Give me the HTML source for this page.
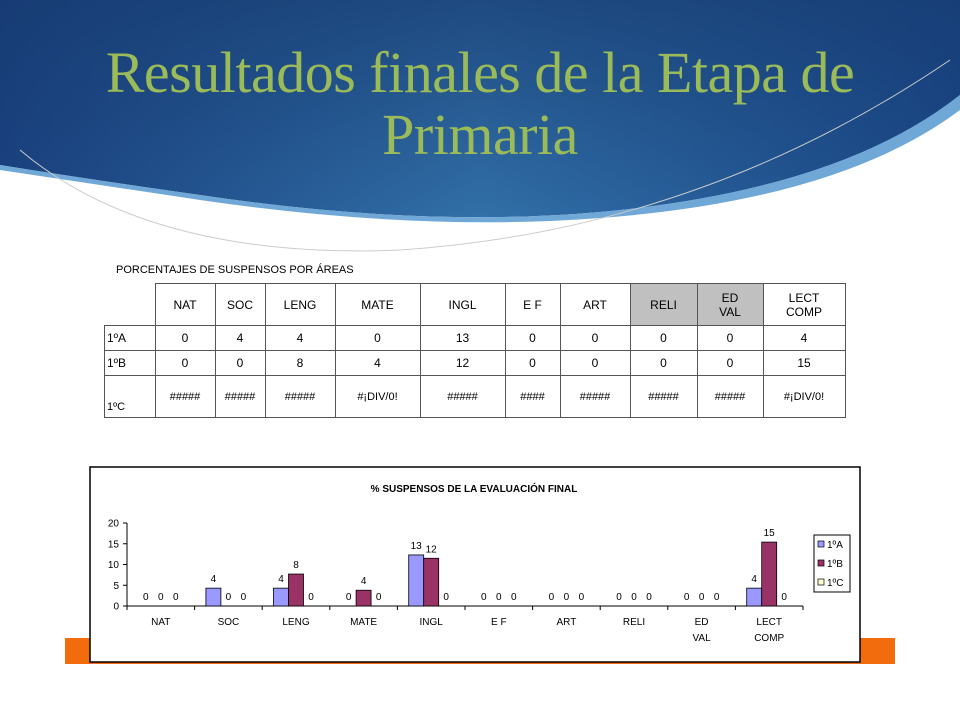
<!DOCTYPE html>
<html><head><meta charset="utf-8">
<style>
body{margin:0;width:960px;height:720px;overflow:hidden;background:#fff;font-family:"Liberation Sans",sans-serif;position:relative}
.abs{position:absolute}
#title{position:absolute;left:0px;top:42px;width:960px;text-align:center;font-family:"Liberation Serif",serif;font-size:58px;line-height:62px;color:#9bbb59;letter-spacing:-0.5px}
table{border-collapse:collapse;font-size:12px;position:absolute;left:104px;top:283px}
td{border:1px solid #555;text-align:center;padding:0}
</style></head><body>
<svg class="abs" style="left:0;top:0" width="960" height="260">
<defs><linearGradient id="g" x1="0" y1="0" x2="1" y2="0"><stop offset="0" stop-color="#1a4280"/><stop offset="0.5" stop-color="#3270a8"/><stop offset="1" stop-color="#1a4888"/></linearGradient>
<linearGradient id="gv" x1="0" y1="0" x2="0" y2="1"><stop offset="0" stop-color="#163a70" stop-opacity="0.7"/><stop offset="1" stop-color="#163a70" stop-opacity="0"/></linearGradient></defs>
<path d="M0 0 H960 V95 Q840 190 600 212 Q420 228 200 195 Q80 178 0 165 Z" fill="url(#g)"/>
<path d="M0 0 H960 V95 Q840 190 600 212 Q420 228 200 195 Q80 178 0 165 Z" fill="url(#gv)"/>
<path d="M0 165 Q80 178 200 195 Q420 228 600 212 Q840 190 960 95 L960 110 Q840 200 600 218 Q420 232 200 200 Q80 182 0 170Z" fill="#6fa7d6"/>
<path d="M20 150 Q150 260 400 250 Q700 230 950 60" fill="none" stroke="#ccc" stroke-width="1"/>
</svg>
<div id="title">Resultados finales de la Etapa de<br>Primaria</div>
<div class="abs" style="left:116px;top:264px;font-size:11px">PORCENTAJES  DE SUSPENSOS POR ÁREAS</div>
<table>
<tr style="height:42px"><td style="width:50px;border:none;border-right:1px solid #555"></td><td style="width:59px">NAT</td><td style="width:49px">SOC</td><td style="width:69px">LENG</td><td style="width:84px">MATE</td><td style="width:84px">INGL</td><td style="width:54px">E F</td><td style="width:69px">ART</td><td style="width:66px;background:#c0c0c0">RELI</td><td style="width:65px;background:#c0c0c0">ED<br>VAL</td><td style="width:81px">LECT<br>COMP</td></tr>
<tr style="height:25px"><td style="text-align:left;padding-left:2px">1ºA</td><td>0</td><td>4</td><td>4</td><td>0</td><td>13</td><td>0</td><td>0</td><td>0</td><td>0</td><td>4</td></tr>
<tr style="height:25px"><td style="text-align:left;padding-left:2px">1ºB</td><td>0</td><td>0</td><td>8</td><td>4</td><td>12</td><td>0</td><td>0</td><td>0</td><td>0</td><td>15</td></tr>
<tr style="height:42px;font-size:11px"><td style="text-align:left;vertical-align:bottom;padding-bottom:4px;padding-left:2px">1ºC</td><td>#####</td><td>#####</td><td>#####</td><td>#¡DIV/0!</td><td>#####</td><td>####</td><td>#####</td><td>#####</td><td>#####</td><td>#¡DIV/0!</td></tr>
</table>
<div class="abs" style="left:65px;top:638px;width:830px;height:26px;background:#f26c0d"></div>
<svg id="chart" class="abs" style="left:0;top:0" width="960" height="720" font-family="Liberation Sans, sans-serif"></svg>
<script>
const categories=["NAT","SOC","LENG","MATE","INGL","E F","ART","RELI","ED|VAL","LECT|COMP"];
const seriesNames=["1ºA","1ºB","1ºC"];
const valuesA=[0,4.3,4.3,0,12.3,0,0,0,0,4.3];
const valuesB=[0,0,7.7,3.8,11.5,0,0,0,0,15.4];
const valuesC=[0,0,0,0,0,0,0,0,0,0];
const labelsA=["0","4","4","0","13","0","0","0","0","4"];
const labelsB=["0","0","8","4","12","0","0","0","0","15"];
const labelsC=["0","0","0","0","0","0","0","0","0","0"];
const yTicks=[0,5,10,15,20];
const svg=document.getElementById('chart');const NS='http://www.w3.org/2000/svg';
function mk(t,a,txt){const e=document.createElementNS(NS,t);for(const k in a)e.setAttribute(k,a[k]);if(txt!==undefined)e.textContent=txt;svg.appendChild(e);return e;}
const x0=127,x1=803,y0=606,y1=523;
const cw=(x1-x0)/categories.length;
const y=v=>y0-(v/20)*(y0-y1);
const cx=i=>x0+cw*(i+0.5);
let e=mk('rect',{x:90,y:467,width:770,height:195,fill:'#fff',stroke:'#000','stroke-width':1.5});


e=mk('text',{x:474,y:492,'font-size':10,'font-weight':'bold','text-anchor':'middle'},'%  SUSPENSOS DE  LA EVALUACIÓN FINAL');


mk('line',{x1:x0,y1:y1,x2:x0,y2:y0,stroke:'#000'});
mk('line',{x1:x0,y1:y0,x2:x1,y2:y0,stroke:'#000'});
yTicks.forEach(t=>{mk('line',{x1:x0-4,y1:y(t),x2:x0,y2:y(t),stroke:'#000'});
e=mk('text',{x:x0-8,y:y(t)+3.5,'font-size':10,'text-anchor':'end'},t);

});
for(let i=0;i<=categories.length;i++)mk('line',{x1:x0+cw*i,y1:y0,x2:x0+cw*i,y2:y0+4,stroke:'#000'});
const series=[valuesA,valuesB,valuesC],labels=[labelsA,labelsB,labelsC],cols=['#9999ff','#993366','#ffffcc'];
const bw=15;
categories.forEach((c,i)=>{
 c.split('|').forEach((p,k)=>{e=mk('text',{x:cx(i),y:625+k*16,'font-size':10,'text-anchor':'middle'},p);
 
 });
 series.forEach((s,j)=>{const bx=cx(i)-1.5*bw+j*bw;const v=s[i];
  if(v>0){e=mk('rect',{x:bx,y:y(v),width:bw,height:y0-y(v),fill:cols[j],stroke:'#000','stroke-width':0.8});
  
  }
  e=mk('text',{x:bx+bw/2,y:(v>0?y(v):y0)-6,'font-size':10,'text-anchor':'middle'},labels[j][i]);
  
  
 });
});
e=mk('rect',{x:814,y:535,width:36,height:57,fill:'#fff',stroke:'#000'});


seriesNames.forEach((n,j)=>{mk('rect',{x:818,y:541+j*19,width:6,height:6,fill:cols[j],stroke:'#000','stroke-width':0.7});
e=mk('text',{x:827,y:548+j*19,'font-size':10},n);

});
</script>
</body></html>
